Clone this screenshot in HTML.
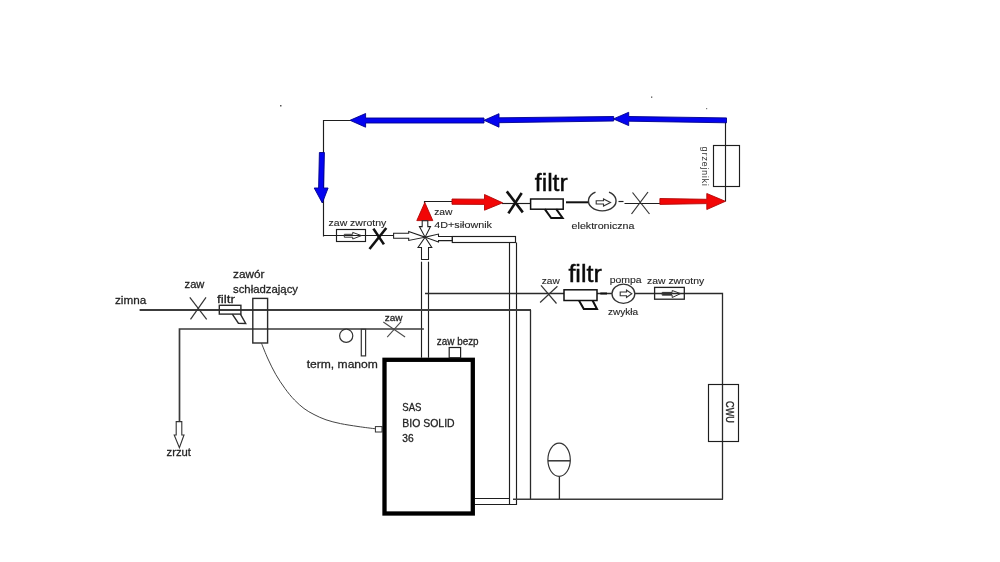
<!DOCTYPE html>
<html><head><meta charset="utf-8"><style>
html,body{margin:0;padding:0;background:#fff;width:1000px;height:562px;overflow:hidden}
svg{display:block;will-change:transform}
text{font-family:"Liberation Sans",sans-serif;fill:#262626;stroke:#262626;stroke-width:0.12px}
.m,.b{stroke:#242424;stroke-width:0.28px;fill:#242424}
.b{font-size:10.3px}
.s{font-size:9.9px}
.e{font-size:8.9px}
.w{font-size:10.4px}
.m{font-size:11.6px}
.x{font-size:9.7px}
.big{font-size:24.8px;fill:#0a0a0a;stroke:#0a0a0a;stroke-width:0.45px}
</style></head><body>
<svg width="1000" height="562" viewBox="0 0 1000 562">
<rect width="1000" height="562" fill="#fff"/>

<!-- ===== thin pipe lines (1px) ===== -->
<g fill="none" stroke="#1e1e1e" stroke-width="1.15">
<polyline points="350,120.5 323.5,120.5 323.5,236.5"/>
<line x1="324" y1="235.5" x2="393.6" y2="235.5"/>
<line x1="725.5" y1="122" x2="725.5" y2="201.5"/>
<polyline points="424.5,203 424.5,201.5 453,201.5"/>
<line x1="502" y1="203.5" x2="530.6" y2="203.5"/>
<line x1="624.5" y1="203.5" x2="660" y2="203.5"/>
<line x1="618.5" y1="201.5" x2="623.5" y2="201.5"/>
</g>
<line x1="566" y1="202.3" x2="588" y2="202.3" stroke="#111" stroke-width="2"/>

<!-- blue arrows -->
<g fill="#0404f0" stroke="#00008c" stroke-width="0.9" stroke-linejoin="miter">
<polygon points="350,120.3 365.6,113.5 365.6,118 484,118 484,123 365.6,123 365.6,127.2"/>
<polygon points="484,120.3 499,113.7 499,117.8 613.7,116.5 613.7,121 499,122.7 499,127.2"/>
<polygon points="613.4,118.9 628.7,112.3 628.7,116.5 726.5,117.9 726.5,122.8 628.7,121.2 628.7,125.6"/>
<polygon points="319.4,152.5 324.4,152.5 323.6,188 328.1,188 322.3,203 314.2,188 318.6,188"/>
</g>
<!-- red arrows -->
<g fill="#f20606" stroke="#b00808" stroke-width="0.9">
<polygon points="424.8,202.5 432.8,220.6 416.8,220.6"/>
<polygon points="452,199 484.5,199.2 484.5,194.5 502.6,202.8 484.5,210.2 484.5,204.4 452,204.3"/>
<polygon points="659.9,198.5 706.8,199.3 706.8,193.5 725.4,201.3 706.8,209.5 706.8,203.6 659.9,204.4"/>
</g>

<!-- check valve (zaw zwrotny, top) -->
<g fill="none" stroke="#1e1e1e" stroke-width="1.15">
<rect x="336.5" y="229.5" width="29" height="12"/>
<path d="M344.3 234.3 H352.7 V232.4 L361.5 235.6 L352.7 239 V237.2 H344.3 Z" stroke="#333" stroke-width="1"/>
</g>
<!-- bold X -->
<g stroke="#111" stroke-width="2.6" fill="none">
<line x1="373.4" y1="228.6" x2="383.9" y2="244.4"/>
<line x1="386.3" y1="228" x2="369.5" y2="249"/>
<line x1="506.8" y1="191.4" x2="522.8" y2="212.4"/>
<line x1="521.7" y1="193" x2="508.4" y2="213.4"/>
</g>

<!-- 4 way valve -->
<g fill="#fff" stroke="#1e1e1e" stroke-width="1.05">
<path d="M422.2 220.8 H427.8 V226.6 H430.5 L425.1 237.2 L419.4 226.6 H422.2 Z"/>
<path d="M393.6 233.2 H408.7 V231.5 L425.1 237.2 L408.7 240.4 V238.3 H393.6 Z"/>
<path d="M452.3 236.5 H438.5 V234.1 L425.1 237.2 L438.5 242.1 V240.6 H452.3 Z"/>
<path d="M421.5 259.5 V247.5 H418 L425.1 237.2 L431.8 247.5 H428.5 V259.5 Z"/>
</g>
<!-- pipes double lines -->
<g fill="none" stroke="#1e1e1e" stroke-width="1.15">
<rect x="452.3" y="236.5" width="63.2" height="6"/>
<line x1="509.5" y1="242.5" x2="509.5" y2="504"/>
<line x1="516.5" y1="242.5" x2="516.5" y2="505"/>
<line x1="421.5" y1="261.7" x2="421.5" y2="357.7"/>
<line x1="428.5" y1="261.7" x2="428.5" y2="357.7"/>
<line x1="475" y1="498.5" x2="509.5" y2="498.5"/>
<line x1="475" y1="504.5" x2="517" y2="504.5"/>
</g>

<!-- filter (top) -->
<g fill="#fff" stroke="#111">
<rect x="530.6" y="199" width="32.6" height="10.2" stroke-width="1.5"/>
<path d="M544.8 209.2 L551.2 218 L562.6 218 L556.2 209.2" fill="none" stroke-width="2"/>
</g>
<!-- pump electronic -->
<g fill="none" stroke="#333" stroke-width="1.4">
<path d="M595.5 192.2 A13.8 10 0 1 0 609 192.2"/>
<path d="M596.2 200.8 H603.5 V199 L610.5 202.5 L603.5 206 V204 H596.2 Z" stroke-width="1.1"/>
</g>
<!-- thin X -->
<g stroke="#333" stroke-width="1.2" fill="none">
<line x1="632.5" y1="192.5" x2="649.5" y2="214"/>
<line x1="648" y1="192" x2="631.5" y2="214"/>
</g>

<!-- grzejniki -->
<rect x="713.5" y="145.5" width="26" height="41" fill="none" stroke="#1e1e1e" stroke-width="1.15"/>
<text class="s" style="font-size:9.4px;fill:#333;stroke:none" transform="translate(701.9,146.6) rotate(90)" textLength="39.3" lengthAdjust="spacing">grzejniki</text>

<!-- texts top -->
<text class="s" x="328.6" y="225.7" textLength="57.6" lengthAdjust="spacingAndGlyphs">zaw zwrotny</text>
<text class="x" x="434.2" y="214.8" textLength="18.3" lengthAdjust="spacingAndGlyphs">zaw</text>
<text class="s" x="434.2" y="227.6" textLength="57.8" lengthAdjust="spacingAndGlyphs">4D+siłownik</text>
<text class="big" x="534.8" y="190.8" textLength="32.9" lengthAdjust="spacingAndGlyphs">filtr</text>
<text class="e" x="571.6" y="228.6" textLength="62.8" lengthAdjust="spacingAndGlyphs">elektroniczna</text>

<!-- ===== LEFT / BOTTOM ===== -->
<g fill="none" stroke="#3c3c3c" stroke-width="2">
<line x1="139.6" y1="310" x2="531" y2="310"/>
</g>
<g fill="none" stroke="#3a3a3a" stroke-width="1.7">
<polyline points="179.5,423 179.5,329 423.9,329"/>
</g>
<g fill="none" stroke="#2a2a2a" stroke-width="1.3">
<line x1="530.5" y1="310" x2="530.5" y2="499.5"/>
<polyline points="425,293.5 722.5,293.5 722.5,499.5"/>
<line x1="513" y1="499.3" x2="723" y2="499.3" stroke="#3a3a3a" stroke-width="1.5"/>
<line x1="559.4" y1="476.4" x2="559.4" y2="499"/>
</g>
<!-- zrzut arrow -->
<path d="M176.2 421.6 H181.8 V435 H184 L179.4 447.8 L174.2 435 H176.2 Z" fill="#fff" stroke="#333" stroke-width="1.1"/>
<!-- thin X zaw -->
<g stroke="#333" stroke-width="1.2" fill="none">
<line x1="189.8" y1="297.4" x2="206.7" y2="319.4"/>
<line x1="206" y1="297.4" x2="190.5" y2="319.4"/>
<line x1="383.3" y1="322" x2="405.1" y2="337" stroke="#4a4a4a" stroke-width="1.05"/>
<line x1="401.1" y1="321.6" x2="387.2" y2="337.2" stroke="#4a4a4a" stroke-width="1.05"/>
<line x1="541" y1="285.4" x2="556.5" y2="303.5"/>
<line x1="557.4" y1="286.2" x2="540.1" y2="302.5"/>
</g>
<!-- small filter -->
<g fill="none" stroke="#2a2a2a" stroke-width="1.4">
<rect x="219.3" y="305.3" width="21.6" height="8.8"/>
<path d="M232.3 314.1 L238.4 323.2 L245.7 323.5 L240.4 314.1"/>
</g>
<!-- zawor schladzajacy -->
<rect x="252.8" y="298.4" width="14.8" height="44.6" fill="none" stroke="#2a2a2a" stroke-width="1.4"/>
<path d="M261.4 343 C262.5 345.7 265.6 353.8 268 359 C270.4 364.2 273.0 369.6 275.8 374.5 C278.6 379.4 281.9 384.2 285 388.5 C288.1 392.8 291.3 396.7 294.5 400 C297.7 403.3 300.8 406.1 304 408.5 C307.2 410.9 310.3 412.6 314 414.5 C317.7 416.4 321.6 418.3 326 419.8 C330.4 421.3 335.2 422.5 340.5 423.6 C345.8 424.7 352.2 425.6 358 426.5 C363.8 427.4 372.5 428.4 375.4 428.8" fill="none" stroke="#444" stroke-width="1"/>
<rect x="375.4" y="426.6" width="6.6" height="5.4" fill="#fff" stroke="#333" stroke-width="1"/>
<!-- term, manom -->
<circle cx="346.2" cy="335.8" r="6.6" fill="#fff" stroke="#333" stroke-width="1.2"/>
<rect x="361.3" y="329.3" width="4.3" height="26.6" fill="#fff" stroke="#333" stroke-width="1.2"/>
<!-- boiler -->
<rect x="384.5" y="359.8" width="88.3" height="153.7" fill="none" stroke="#000" stroke-width="4.3"/>
<rect x="449.2" y="347.5" width="11.4" height="10.2" fill="#fff" stroke="#222" stroke-width="1.2"/>
<!-- pump 2 / filter 2 / check valve 2 -->
<g fill="#fff" stroke="#111">
<rect x="564" y="289.8" width="33" height="10.7" stroke-width="1.5"/>
<path d="M579 300.5 L583.8 309 L597 309 L592.6 300.5" fill="none" stroke-width="2"/>
</g>
<line x1="600.3" y1="293.5" x2="607" y2="293.5" stroke="#111" stroke-width="2"/>
<ellipse cx="623.4" cy="293.8" rx="11.4" ry="9.6" fill="#fff" stroke="#333" stroke-width="1.3"/>
<path d="M620.2 292 H626.5 V290 L631.8 293.8 L626.5 297.5 V295.7 H620.2 Z" fill="#fff" stroke="#333" stroke-width="1.1"/>
<rect x="654.6" y="287.4" width="29.7" height="11.8" fill="none" stroke="#222" stroke-width="1.3"/>
<path d="M662.2 292.4 H672.2 V290.5 L680.6 293.6 L672.2 297.5 V295.2 H662.2 Z" fill="none" stroke="#333" stroke-width="1"/>
<rect x="662.6" y="292.6" width="9.4" height="2.4" fill="#333"/>
<!-- CWU -->
<rect x="708.5" y="384.5" width="30" height="57" fill="none" stroke="#1e1e1e" stroke-width="1.15"/>
<!-- expansion vessel -->
<ellipse cx="559.1" cy="459.8" rx="11.2" ry="16.6" fill="#fff" stroke="#333" stroke-width="1.2"/>
<line x1="547.9" y1="460.8" x2="570.3" y2="460.8" stroke="#333" stroke-width="1.5"/>

<!-- texts left -->
<text class="m" x="115" y="304" textLength="31.2" lengthAdjust="spacingAndGlyphs">zimna</text>
<text class="m" x="184.6" y="287.6" textLength="19.8" lengthAdjust="spacingAndGlyphs">zaw</text>
<text class="m" x="217" y="303.2" textLength="18" lengthAdjust="spacingAndGlyphs">filtr</text>
<text class="m" x="233" y="278" textLength="31.4" lengthAdjust="spacingAndGlyphs">zawór</text>
<text class="m" x="233" y="293" textLength="65" lengthAdjust="spacingAndGlyphs">schładzający</text>
<text class="m" x="306.7" y="368" textLength="71.2" lengthAdjust="spacingAndGlyphs">term, manom</text>
<text class="m" x="166.6" y="456.2" textLength="24.4" lengthAdjust="spacingAndGlyphs">zrzut</text>
<text class="m" style="font-size:9.8px" x="384.8" y="320.6" textLength="17.7" lengthAdjust="spacingAndGlyphs">zaw</text>
<text class="b" x="436.8" y="344.6" textLength="41.8" lengthAdjust="spacingAndGlyphs">zaw bezp</text>
<text class="b" x="402.3" y="410.5" textLength="19.2" lengthAdjust="spacingAndGlyphs">SAS</text>
<text class="b" x="402.3" y="426.5" textLength="52.3" lengthAdjust="spacingAndGlyphs">BIO SOLID</text>
<text class="b" x="402.3" y="442.1" textLength="11.4" lengthAdjust="spacingAndGlyphs">36</text>
<text class="x" x="541.8" y="284.4" textLength="18" lengthAdjust="spacingAndGlyphs">zaw</text>
<text class="big" x="568.4" y="281.8" textLength="33.4" lengthAdjust="spacingAndGlyphs">filtr</text>
<text class="x" x="609.7" y="282.8" textLength="32" lengthAdjust="spacingAndGlyphs">pompa</text>
<text class="x" x="607.9" y="314.8" textLength="30.2" lengthAdjust="spacingAndGlyphs">zwykła</text>
<text class="x" x="647" y="283.6" textLength="57.2" lengthAdjust="spacingAndGlyphs">zaw zwrotny</text>
<text class="w" style="stroke-width:0.35px" transform="translate(725.9,401.1) rotate(90)" textLength="21.8" lengthAdjust="spacingAndGlyphs">CWU</text>

<!-- stray specks -->
<rect x="280" y="105" width="1.5" height="1.5" fill="#555"/>
<rect x="651" y="96.5" width="1.3" height="1.3" fill="#555"/>
<rect x="706" y="108" width="1.2" height="1.2" fill="#777"/>
</svg>
</body></html>
